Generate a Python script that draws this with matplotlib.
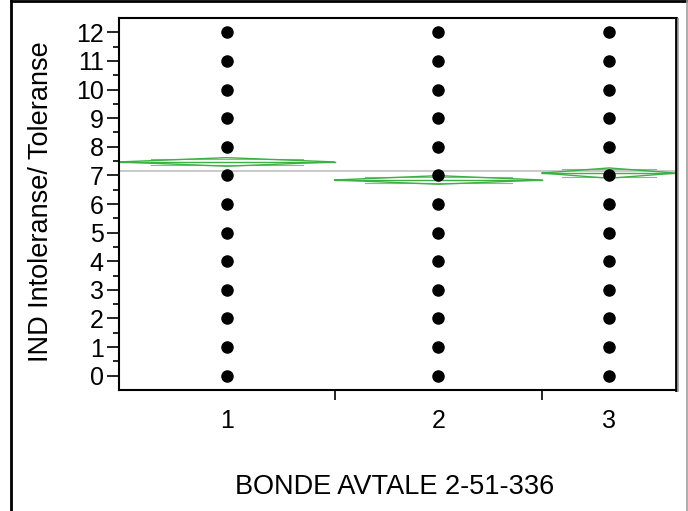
import matplotlib
matplotlib.use("Agg")
import matplotlib.pyplot as plt
from matplotlib.lines import Line2D
import numpy as np

plt.rcParams['font.family'] = ['Liberation Sans', 'DejaVu Sans']

# Data
groups = ["1", "2", "3"]
group_weights = [216, 208, 134]          # relative sample sizes (x widths)
levels = list(range(0, 13))              # observed response values in each group
group_means = [7.47, 6.84, 7.08]
group_ci = [0.15, 0.15, 0.18]            # half-width of 95% CI
grand_mean = 7.15
yticks = list(range(0, 13))
xlabel = "BONDE AVTALE 2-51-336"
ylabel = "IND Intoleranse/ Toleranse"

W, H = 688, 511
fig = plt.figure(figsize=(W / 100, H / 100), dpi=100)
ax = fig.add_axes([119 / W, (H - 390) / H, (676 - 119) / W, (390 - 18) / H])

edges = np.concatenate([[0], np.cumsum(group_weights)])
centers = (edges[:-1] + edges[1:]) / 2
green = "#3cb043"

ax.axhline(grand_mean, color="#c0c0c0", lw=1.2, zorder=1)

for i in range(len(groups)):
    x0, x1, xc = edges[i], edges[i + 1], centers[i]
    m, c = group_means[i], group_ci[i]
    # diamond
    ax.plot([x0, xc, x1, xc, x0], [m, m + c, m, m - c, m], color=green, lw=1.0, zorder=2)
    # mean line
    ax.plot([x0, x1], [m, m], color=green, lw=1.0, zorder=2)
    # overlap marks
    h = c / np.sqrt(2)
    frac = h / c
    hw = (x1 - x0) / 2 * (1 - frac)
    for s in (1, -1):
        ax.plot([x0 + hw, x1 - hw], [m + s * h, m + s * h], color=green, lw=0.8, alpha=0.7, zorder=2)
    ax.plot([xc] * len(levels), levels, 'o', color='black', ms=8, zorder=3)

ax.set_xlim(edges[0], edges[-1])
ax.set_ylim(-0.5, 12.5)

ax.set_yticks(yticks)
ax.set_yticks(np.arange(0.5, 12.5, 1), minor=True)
ax.tick_params(axis='y', which='major', length=9, width=1.2, labelsize=18, pad=2)
ax.tick_params(axis='y', which='minor', length=4.5, width=1.2)

ax.set_xticks(edges[1:-1])
ax.set_xticklabels([])
ax.set_xticks(centers, minor=True)
ax.set_xticklabels(groups, minor=True)
ax.tick_params(axis='x', which='major', length=7, width=1.2)
ax.tick_params(axis='x', which='minor', length=0, labelsize=18, pad=14)

for sp in ax.spines.values():
    sp.set_linewidth(1.5)
ax.spines['right'].set_linewidth(2)

fig.text(41 / W, 1 - 202 / H, ylabel, rotation=90, fontsize=19.5, ha='center', va='center')
fig.text(395 / W, 1 - 487 / H, xlabel, fontsize=19.5, ha='center', va='center')

# outer frame
fig.add_artist(Line2D([11 / W, 11 / W], [0, 1 - 1 / H], color='black', lw=2, transform=fig.transFigure))
fig.add_artist(Line2D([11 / W, 686 / W], [1 - 1.5 / H, 1 - 1.5 / H], color='black', lw=2, transform=fig.transFigure))
fig.add_artist(Line2D([686.5 / W, 686.5 / W], [0, 1 - 1 / H], color='#a0a0a0', lw=1.2, transform=fig.transFigure))
fig.add_artist(Line2D([678 / W, 678 / W], [(H - 391) / H, (H - 19) / H], color='#a0a0a0', lw=1.2, transform=fig.transFigure))

fig.savefig("out.png", dpi=100)
